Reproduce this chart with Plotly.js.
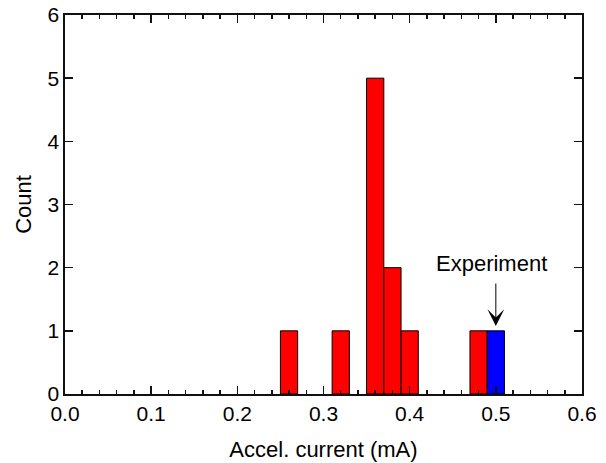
<!DOCTYPE html>
<html>
<head>
<meta charset="utf-8">
<script src="https://cdn.plot.ly/plotly-3.0.1.min.js"></script>
<style>html,body{margin:0;padding:0;background:#fff;}#chart{width:606px;height:463px;}</style>
</head>
<body>
<div id="chart"></div>
<script>
// Data
const simCurrent = [0.26, 0.32, 0.36, 0.38, 0.40, 0.48];
const simCount = [1, 1, 5, 2, 1, 1];
const expCurrent = [0.50];
const expCount = [1];
const binWidth = 0.02;
const xTickVals = [0, 0.1, 0.2, 0.3, 0.4, 0.5, 0.6];
const xTickText = ['0.0', '0.1', '0.2', '0.3', '0.4', '0.5', '0.6'];
const yTickVals = [0, 1, 2, 3, 4, 5, 6];

const lineCol = '#111111';
const fontFam = '"Liberation Sans", Arial, sans-serif';

const traces = [
  {type: 'bar', x: simCurrent, y: simCount, width: binWidth,
   marker: {color: '#ff0000', line: {color: '#000', width: 1}}, showlegend: false, hoverinfo: 'skip'},
  {type: 'bar', x: expCurrent, y: expCount, width: binWidth,
   marker: {color: '#0000ff', line: {color: '#000', width: 1}}, showlegend: false, hoverinfo: 'skip'}
];

const axisCommon = {
  showline: true, linecolor: lineCol, linewidth: 1.6, mirror: 'ticks',
  ticks: 'inside', ticklen: 8, tickwidth: 1.5, tickcolor: lineCol,
  showgrid: false, zeroline: false,
  tickfont: {family: fontFam, size: 21, color: '#000'}
};

const layout = {
  width: 606, height: 463,
  margin: {l: 65, r: 24, t: 15, b: 69},
  paper_bgcolor: '#fff', plot_bgcolor: '#fff',
  barmode: 'overlay',
  font: {family: fontFam, color: '#000'},
  xaxis: Object.assign({}, axisCommon, {
    range: [0, 0.6], tickvals: xTickVals, ticktext: xTickText,
    minor: {dtick: 0.02, ticks: 'inside', ticklen: 4, tickwidth: 1.5, tickcolor: lineCol, showgrid: false},
    title: {text: 'Accel. current (mA)', font: {family: fontFam, size: 22, color: '#000'}, standoff: 18}
  }),
  yaxis: Object.assign({}, axisCommon, {
    range: [0, 6], tickvals: yTickVals,
    title: {text: 'Count', font: {family: fontFam, size: 22, color: '#000'}, standoff: 10}
  }),
  annotations: [
    {x: 0.5, y: 1.076, xref: 'x', yref: 'y', text: '', showarrow: true,
     ax: 0, ay: -44, arrowhead: 3, arrowsize: 2.8, arrowwidth: 1, arrowcolor: '#000'},
    {x: 0.5, y: 2.06, xref: 'x', yref: 'y', text: 'Experiment', showarrow: false,
     xshift: -4, font: {family: fontFam, size: 22, color: '#000'}}
  ]
};

Plotly.newPlot('chart', traces, layout, {displayModeBar: false, staticPlot: true});
</script>
</body>
</html>
